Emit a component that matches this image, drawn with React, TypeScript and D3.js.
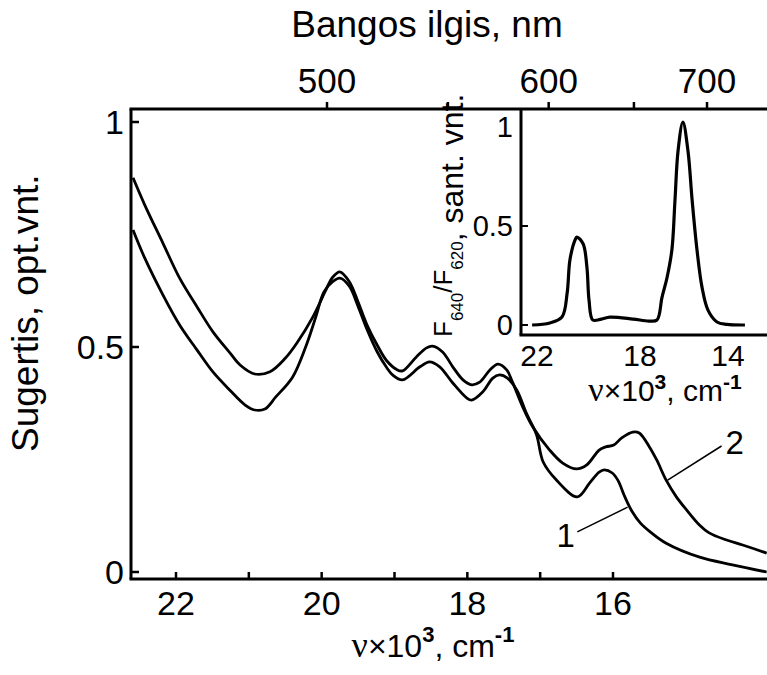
import React from 'react';
import * as d3 from 'd3';

const W = 767;
const H = 675;

// Main chart: wavenumber (x10^3 cm^-1) vs absorbance, curve 1
const nu1 = [22.59, 22.43, 22.18, 21.95, 21.71, 21.49, 21.26, 21.05, 20.92, 20.78, 20.63, 20.40, 20.22, 20.08, 19.97, 19.85, 19.75, 19.62, 19.50, 19.38, 19.24, 19.11, 19.02, 18.89, 18.65, 18.52, 18.38, 18.20, 18.01, 17.94, 17.79, 17.65, 17.56, 17.45, 17.32, 17.19, 17.05, 16.96, 16.78, 16.49, 16.32, 16.19, 16.12, 16.01, 15.93, 15.84, 15.74, 15.62, 15.48, 15.27, 14.81, 14.36, 13.89];
const abs1 = [0.76, 0.698, 0.616, 0.549, 0.493, 0.444, 0.404, 0.371, 0.36, 0.362, 0.389, 0.433, 0.50, 0.567, 0.622, 0.645, 0.653, 0.635, 0.59, 0.54, 0.49, 0.455, 0.437, 0.427, 0.456, 0.467, 0.456, 0.42, 0.387, 0.382, 0.40, 0.431, 0.438, 0.431, 0.404, 0.353, 0.305, 0.245, 0.205, 0.167, 0.198, 0.222, 0.227, 0.22, 0.203, 0.168, 0.135, 0.108, 0.088, 0.064, 0.033, 0.016, 0.0];
// curve 2
const nu2 = [22.59, 22.43, 22.18, 21.95, 21.71, 21.49, 21.26, 21.12, 20.92, 20.71, 20.50, 20.34, 20.12, 19.93, 19.85, 19.75, 19.62, 19.50, 19.38, 19.24, 19.11, 18.97, 18.89, 18.70, 18.56, 18.48, 18.34, 18.20, 18.06, 17.94, 17.83, 17.69, 17.58, 17.46, 17.38, 17.24, 17.10, 16.87, 16.69, 16.50, 16.36, 16.19, 16.10, 15.99, 15.88, 15.73, 15.64, 15.50, 15.40, 15.27, 15.13, 14.99, 14.81, 14.68, 14.44, 14.22, 13.89];
const abs2 = [0.876, 0.816, 0.731, 0.653, 0.589, 0.533, 0.487, 0.46, 0.44, 0.445, 0.475, 0.509, 0.567, 0.631, 0.655, 0.667, 0.645, 0.60, 0.55, 0.505, 0.47, 0.45, 0.447, 0.478, 0.498, 0.502, 0.489, 0.456, 0.427, 0.416, 0.422, 0.449, 0.462, 0.449, 0.422, 0.367, 0.322, 0.271, 0.242, 0.229, 0.238, 0.271, 0.278, 0.282, 0.298, 0.311, 0.309, 0.278, 0.249, 0.204, 0.167, 0.138, 0.104, 0.087, 0.071, 0.06, 0.042];

// Inset: F640/F620 ratio
const insetNu = [22.19, 21.5, 21.03, 20.83, 20.72, 20.52, 20.45, 20.21, 20.06, 19.98, 19.83, 19.5, 19.17, 18.27, 17.6, 17.23, 17.0, 16.77, 16.55, 16.41, 16.27, 16.05, 15.82, 15.63, 15.41, 15.18, 14.91, 14.5, 14.05, 13.23];
const insetRatio = [0.0, 0.01, 0.04, 0.16, 0.33, 0.43, 0.444, 0.41, 0.29, 0.126, 0.025, 0.03, 0.04, 0.03, 0.02, 0.025, 0.14, 0.24, 0.38, 0.63, 0.88, 1.025, 0.88, 0.63, 0.38, 0.19, 0.075, 0.015, 0.003, 0.0];

const bottomTicks = [22, 21, 20, 19, 18, 17, 16];
const bottomTickLabels = [22, 20, 18, 16];
const leftTicks = [0, 0.5, 1];
const leftTickLabels = ['0', '0.5', '1'];
const topTicksNm = [500, 550, 600, 650, 700];
const topTickLabelsNm = [500, 600, 700];
const insetXTicks = [22, 18, 14];
const insetYTicks = [0, 0.5, 1];
const insetYLabels = ['0', '0.5', '1'];

// curve annotations (data coordinates)
const curveNames = ['1', '2'];
const labelAt = [[16.65, 0.056], [14.33, 0.262]];
const leaderFrom = [[16.49, 0.089], [15.25, 0.204]];
const leaderTo = [[15.80, 0.144], [14.51, 0.28]];

const FONT = '"Liberation Sans", Arial, sans-serif';

export default function App() {
  const x = d3.scaleLinear().domain([22, 16]).range([176, 613]);
  const y = d3.scaleLinear().domain([0, 1]).range([572, 122]);
  const xTop = d3.scaleLinear().domain([20000, 14286]).range([327, 707]);
  const xIn = d3.scaleLinear().domain([22, 18, 14]).range([537, 640, 728]);
  const yIn = d3.scaleLinear().domain([0, 1]).range([325, 127]);

  const left = 131, top = 109, bottom = 579;
  const inLeft = 521, inBottom = 335;

  const line = d3.line<[number, number]>()
    .x(d => x(d[0]))
    .y(d => y(d[1]))
    .curve(d3.curveCatmullRom.alpha(0.5));
  const lineIn = d3.line<[number, number]>()
    .x(d => xIn(d[0]))
    .y(d => yIn(d[1]))
    .curve(d3.curveCatmullRom.alpha(0.5));

  const c1 = nu1.map((v, i) => [v, abs1[i]] as [number, number]);
  const c2 = nu2.map((v, i) => [v, abs2[i]] as [number, number]);
  const ci = insetNu.map((v, i) => [v, insetRatio[i]] as [number, number]);

  return (
    <div style={{ position: 'fixed', left: 0, top: 0 }}>
      <svg width={W} height={H} style={{ display: 'block', background: '#fff' }} fontFamily={FONT}>
        <rect width={W} height={H} fill="#fff" />
        {/* main frame */}
        <g stroke="#000" strokeWidth={3} fill="none">
          <line x1={left} y1={top} x2={left} y2={bottom} />
          <line x1={left - 1.5} y1={top} x2={W} y2={top} />
          <line x1={left - 1.5} y1={bottom} x2={W} y2={bottom} />
          {bottomTicks.map(t => (
            <line key={'bt' + t} x1={x(t)} x2={x(t)} y1={bottom} y2={bottom - 7} strokeWidth={2.5} />
          ))}
          {leftTicks.map(t => (
            <line key={'lt' + t} x1={left} x2={left + 8} y1={y(t)} y2={y(t)} strokeWidth={2.5} />
          ))}
          {topTicksNm.map(t => (
            <line key={'tt' + t} x1={xTop(1e7 / t)} x2={xTop(1e7 / t)} y1={top} y2={top - 7} strokeWidth={2.5} />
          ))}
        </g>
        {/* bottom tick labels */}
        <g fontSize={34} textAnchor="middle" fill="#000">
          {bottomTickLabels.map(t => (
            <text key={'btl' + t} x={x(t)} y={615}>{t}</text>
          ))}
        </g>
        {/* left tick labels */}
        <g fontSize={34} textAnchor="end" fill="#000">
          {leftTicks.map((t, i) => (
            <text key={'ltl' + t} x={124} y={y(t) + 12}>{leftTickLabels[i]}</text>
          ))}
        </g>
        {/* top tick labels */}
        <g fontSize={35} textAnchor="middle" fill="#000">
          {topTickLabelsNm.map(t => (
            <text key={'ttl' + t} x={xTop(1e7 / t)} y={93}>{t}</text>
          ))}
        </g>
        <text x={427} y={37} fontSize={37} textAnchor="middle">Bangos ilgis, nm</text>
        {/* main y label */}
        <text transform="translate(38,452) rotate(-90)" fontSize={37} textAnchor="start">Sugertis, opt.vnt.</text>
        {/* main x label */}
        <text x={433} y={657} fontSize={32} textAnchor="middle">
          <tspan fontFamily='"Liberation Serif", "DejaVu Serif", serif' fontSize={36}>ν</tspan>
          <tspan>×10</tspan>
          <tspan dy={-15} fontSize={22} fontWeight="bold">3</tspan>
          <tspan dy={15}>, cm</tspan>
          <tspan dy={-15} fontSize={22} fontWeight="bold">-1</tspan>
        </text>

        {/* curves */}
        <path d={line(c1) || ''} fill="none" stroke="#000" strokeWidth={2.8} strokeLinejoin="round" />
        <path d={line(c2) || ''} fill="none" stroke="#000" strokeWidth={2.8} strokeLinejoin="round" />

        {/* curve labels */}
        {curveNames.map((n, i) => (
          <g key={'cl' + n}>
            <line x1={x(leaderFrom[i][0])} y1={y(leaderFrom[i][1])} x2={x(leaderTo[i][0])} y2={y(leaderTo[i][1])} stroke="#000" strokeWidth={1.5} />
            <text x={x(labelAt[i][0])} y={y(labelAt[i][1])} fontSize={33} textAnchor="middle">{n}</text>
          </g>
        ))}

        {/* inset */}
        <g stroke="#000" strokeWidth={3} fill="none">
          <line x1={inLeft} y1={top} x2={inLeft} y2={inBottom} />
          <line x1={inLeft - 1.5} y1={inBottom} x2={W} y2={inBottom} />
          {insetYTicks.slice(0, 2).map(t => (
            <line key={'it' + t} x1={inLeft} x2={inLeft + 7} y1={yIn(t)} y2={yIn(t)} strokeWidth={2} />
          ))}
        </g>
        <path d={lineIn(ci) || ''} fill="none" stroke="#000" strokeWidth={3.2} strokeLinejoin="round" />
        <g fontSize={29} textAnchor="end">
          {insetYTicks.map((t, i) => (
            <text key={'iyl' + t} x={513} y={yIn(t) + 10}>{insetYLabels[i]}</text>
          ))}
        </g>
        <g fontSize={30} textAnchor="middle">
          {insetXTicks.map(t => (
            <text key={'ixl' + t} x={xIn(t)} y={366}>{t}</text>
          ))}
        </g>
        <text x={665} y={401} fontSize={30} textAnchor="middle">
          <tspan fontFamily='"Liberation Serif", "DejaVu Serif", serif' fontSize={34}>ν</tspan>
          <tspan>×10</tspan>
          <tspan dy={-12} fontSize={21} fontWeight="bold">3</tspan>
          <tspan dy={12}>, cm</tspan>
          <tspan dy={-12} fontSize={21} fontWeight="bold">-1</tspan>
        </text>
        <text transform="translate(463,337) rotate(-90)" fontSize={32} textAnchor="start">
          <tspan dy={-11} fontSize={26}>F</tspan>
          <tspan dy={11} fontSize={17}>640</tspan>
          <tspan dy={-11} fontSize={26}>/F</tspan>
          <tspan dy={11} fontSize={17}>620</tspan>
          <tspan>, sant. vnt.</tspan>
        </text>
      </svg>
    </div>
  );
}
